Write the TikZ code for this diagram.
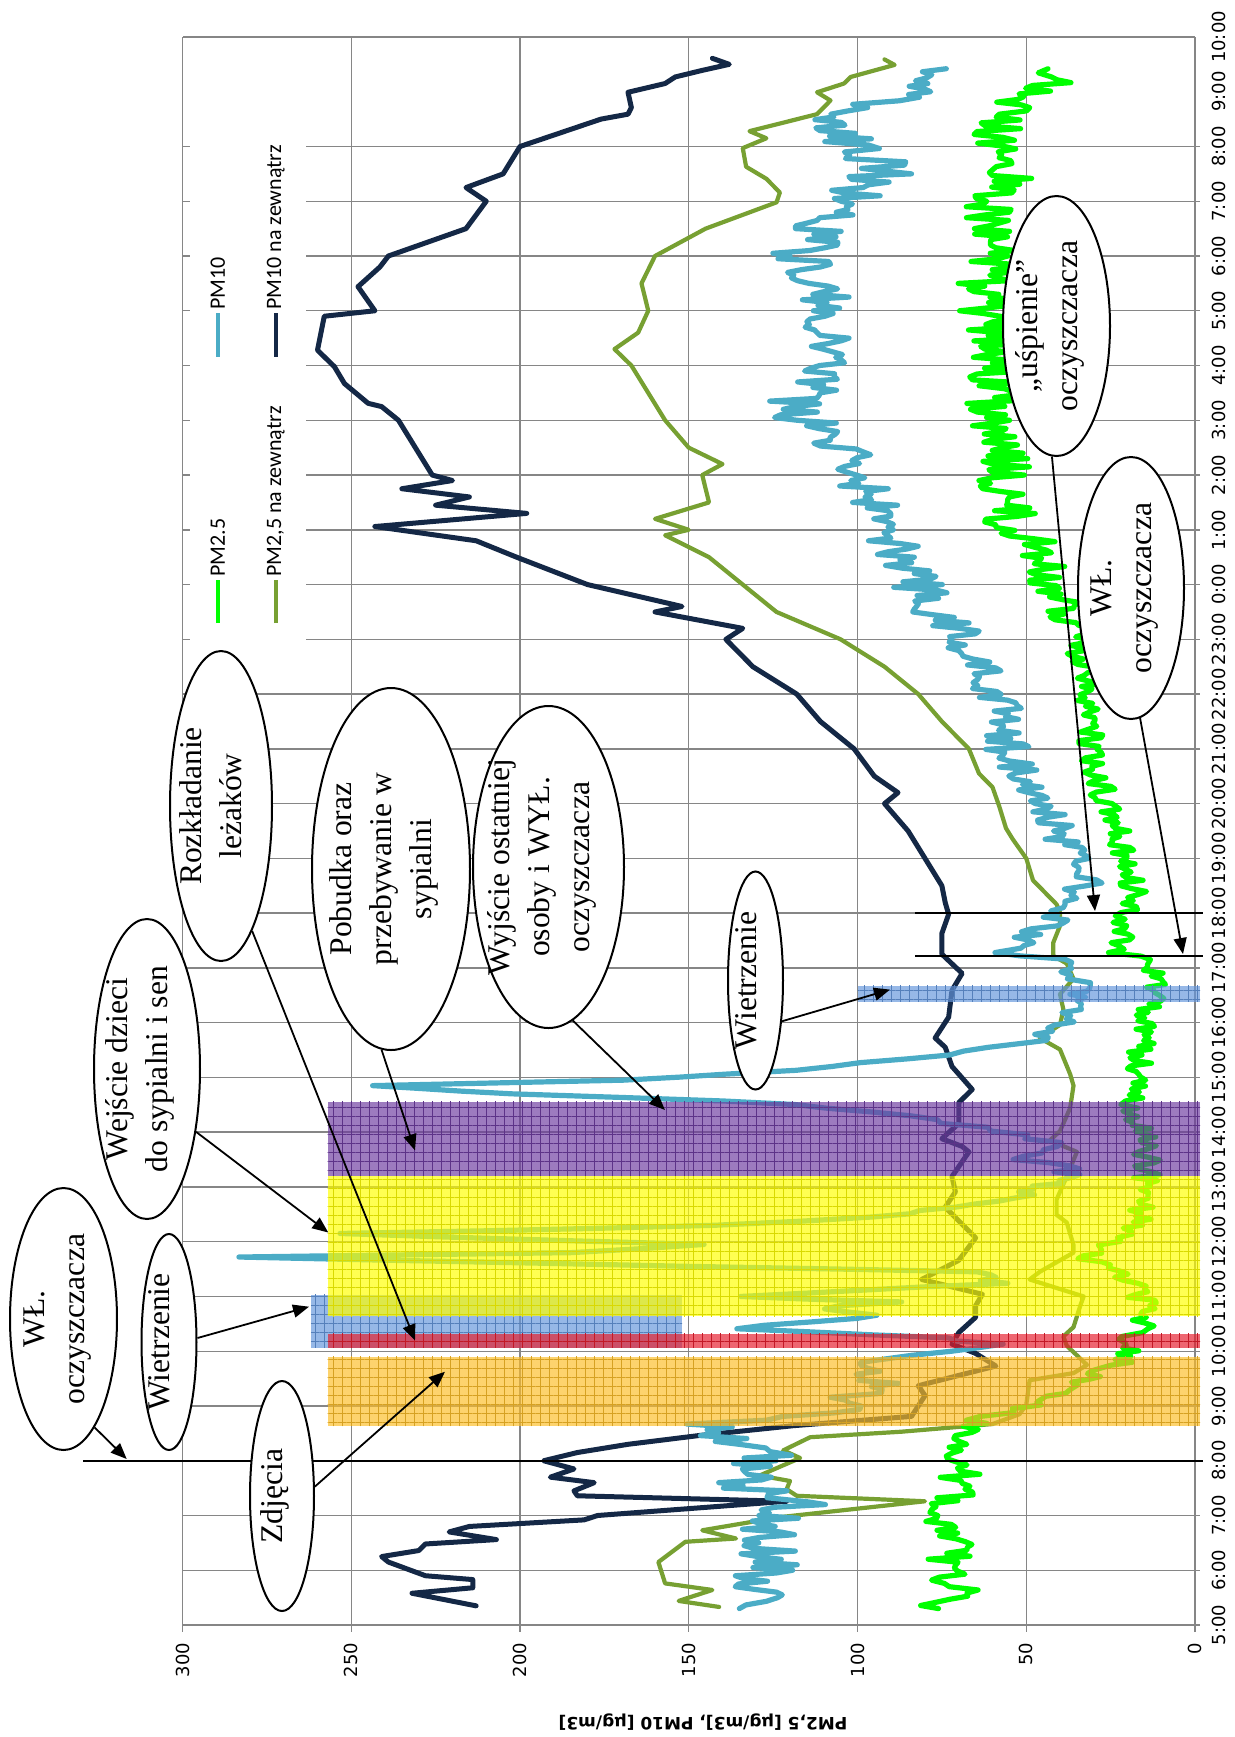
\documentclass[tikz,border=0pt]{standalone}
\usepackage{fontspec}
\setmainfont{Liberation Serif}
\newfontfamily\axisfont{DejaVu Sans}
\newfontfamily\legendfont{Carlito}
\usetikzlibrary{shapes.geometric,arrows.meta,patterns.meta}

\definecolor{pmtenin}{RGB}{75,172,198}
\definecolor{pmtenout}{RGB}{20,40,70}
\definecolor{pmfinein}{RGB}{0,255,0}
\definecolor{pmfineout}{RGB}{119,160,50}
\definecolor{gridgray}{RGB}{134,134,134}
\definecolor{bandorange}{RGB}{252,190,40}
\definecolor{bandred}{RGB}{230,30,45}
\definecolor{bandblue}{RGB}{100,150,220}
\definecolor{bandyellow}{RGB}{255,255,0}
\definecolor{bandpurple}{RGB}{110,60,160}

% text of a callout, kept out of the ellipse size
\newcommand{\bubbletext}[1]{\smash{\makebox[0pt]{\begin{tabular}{@{}c@{}}#1\end{tabular}}}}

\begin{document}
\begin{tikzpicture}[x=0.5pt, y=-0.5pt, >={Triangle[length=8pt,width=6.5pt]},
  gridline/.style={draw=gridgray, line width=0.7pt},
  axisline/.style={draw=gridgray, line width=1.2pt},
  eventline/.style={draw=black, line width=1pt},
  band/.style={fill=#1, fill opacity=0.68, postaction={fill opacity=0.3, pattern color=#1!85!black, pattern={Hatch[angle=0,distance=4.5pt,line width=0.25pt]}}},
  series/.style={line width=2.3pt, line join=round, line cap=round},
  bubble/.style={ellipse, draw, line width=1pt, fill=white, inner sep=0pt, rotate=90, font=\fontsize{15.8}{20}\selectfont},
  pointer/.style={->, line width=0.9pt},
  hourlabel/.style={rotate=90, anchor=north, inner sep=0pt, font=\axisfont\fontsize{9}{10}\selectfont},
  valuelabel/.style={rotate=90, anchor=east, inner sep=0pt, font=\axisfont\fontsize{9}{10}\selectfont},
  legendtext/.style={rotate=90, anchor=west, inner sep=0pt, font=\legendfont\fontsize{11}{13}\selectfont}]

\useasboundingbox (0,0) rectangle (1235,1737);
\pgfmathsetseed{11}

% chart: time along (0,1), concentration along (-1,0)
\begin{scope}[shift={(1195,1898.8)}, x={(0pt,27.38pt)}, y={(-1.6875pt,0pt)}]
  \foreach \h in {5,...,32} \draw[gridline] (\h,0) -- (\h,300);
  \draw[gridline] (34,0) -- (34,300);
  \foreach \v in {50,100,...,300} \draw[gridline] (5,\v) -- (34,\v);
  \foreach \h in {5,...,32} \draw[gridline] (\h,0) -- (\h,-1.6);
  \foreach \v in {0,50,...,300} \draw[gridline] (5,\v) -- (4.87,\v);
  \draw[axisline] (5,300) -- (5,-1.6);
  \draw[axisline] (4.87,0) -- (34,0);

  \foreach \h in {5,...,34} {
    \pgfmathtruncatemacro{\hr}{mod(\h,24)}
    \node[hourlabel] (hour\h) at (\h,-5) {\hr:00};
  }
  \foreach \v in {0,50,...,300} \node[valuelabel] (val\v) at (4.68,\v) {\v};

  % PM10 na zewnatrz
  \draw[series, pmtenout, line width=2.5pt] plot coordinates {(5.35,213) (5.58,232) (5.68,214) (5.83,214) (5.9,228) (6.15,239) (6.25,241) (6.36,230) (6.48,228) (6.56,207) (6.7,221) (6.8,215) (6.92,181) (7.0,177) (7.26,121) (7.36,183) (7.45,184) (7.6,178) (7.7,191) (7.85,184) (8.0,193) (8.15,183) (8.3,168) (8.46,147) (8.64,119) (8.81,84) (9.19,80) (9.37,82) (9.73,59) (9.96,65) (10.13,72) (10.34,70) (10.62,65) (10.83,65) (11.04,63) (11.31,81) (11.66,70) (12.07,65) (12.63,74) (12.91,71) (13.19,72) (13.64,67) (13.74,69) (13.88,75) (14.16,70) (14.54,70) (14.78,66) (15.2,72) (15.55,74) (15.72,77) (16.1,73) (16.59,72) (16.9,69) (17.25,75) (17.63,75) (17.98,73) (18.19,74) (18.5,75) (19.0,80) (19.5,85) (20.0,92) (20.2,88) (20.5,95) (21.0,101) (21.5,111) (22.0,118) (22.5,131) (23.0,139) (23.2,134) (23.5,160) (23.6,152) (24.0,180) (24.5,201) (24.8,213) (25.06,243) (25.3,198) (25.45,225) (25.6,215) (25.75,235) (25.9,220) (26.0,226) (26.5,231) (27.0,236) (27.25,241) (27.31,245) (27.67,252) (27.98,255) (28.28,260) (28.9,258) (29.0,243) (29.44,248) (29.8,241.5) (30.0,239) (30.5,216) (31.0,210) (31.25,216) (31.5,205) (32.0,200) (32.5,176) (32.59,168) (32.71,167) (32.99,168) (33.15,157) (33.27,154) (33.39,146) (33.5,138) (33.61,143)};

  % PM2,5 na zewnatrz
  \draw[series, pmfineout, line width=2.1pt] plot coordinates {(5.33,141) (5.44,153) (5.64,143) (5.76,157) (6.15,159) (6.52,151) (6.58,136) (6.73,146) (6.97,123) (7.26,80) (7.36,118) (7.48,121) (7.63,120) (7.73,129) (8.05,117) (8.19,122) (8.43,114) (8.53,87) (8.67,60) (8.85,52) (9.02,50) (9.47,49) (9.6,36) (9.75,32) (10.1,38) (10.27,39) (10.44,36) (10.83,34) (11.0,33) (11.31,49) (11.45,46) (11.8,36) (11.94,36) (12.35,38) (12.49,41) (12.77,41) (13.19,38) (13.64,35) (13.85,43) (14.02,40) (14.44,37) (14.85,36) (15.06,37) (15.51,40) (15.72,46) (15.96,40) (16.24,39) (16.52,40) (16.8,36) (17.08,38) (17.22,42) (17.46,42) (17.77,40) (18.01,40) (18.16,41) (18.6,48) (19.0,50) (19.35,54) (19.55,56) (19.95,58) (20.3,60) (20.55,64) (21.0,67) (21.5,75) (22.0,82) (22.5,92) (23.0,105) (23.5,124) (24.0,134) (24.5,144) (24.9,157) (25.0,150) (25.2,160) (25.5,144) (26.0,146) (26.2,140) (26.5,150) (27.0,157) (27.5,162) (28.0,167) (28.3,172) (28.6,165) (29.0,162) (29.5,164) (30.0,160) (30.5,145) (30.98,124) (31.16,123) (31.41,127) (31.63,133) (31.97,134) (32.15,127) (32.28,132) (32.59,112) (32.84,108) (32.99,112) (33.15,104) (33.27,102) (33.49,89) (33.59,92)};

  % PM10 (noisy)
  \draw[series, pmtenin, line width=2.6pt] (5.3,135)
    \foreach \ti/\vi/\am [remember=\ti as \tq (initially 5.3), remember=\vi as \vq (initially 135), evaluate=\ti as \ns using {int(max(1,(\ti-\tq)*20))}] in {5.5/128/11, 6.0/127/11, 6.5/128/11, 7.0/125/11, 7.25/115/11, 7.4/128/11, 7.8/138/11, 8.1/127/11, 8.3/137/7, 8.67/145/7, 8.81/122/7, 9.0/97/7, 9.16/105/7, 9.3/87/7, 9.58/102/7, 9.85/92/7, 10.0/73/7, 10.13/53/5, 10.3/92/6, 10.41/140/6, 10.6/97/6, 10.83/107/6, 10.9/87/6, 11.0/130/6, 11.24/58/5, 11.45/68/5, 11.55/150/5, 11.72/284/2, 11.8/180/5, 11.95/150/5, 12.15/250/5, 12.3/140/5, 12.45/95/5, 12.63/68/5, 12.91/48/5, 13.12/39/5, 13.33/38/5, 13.5/50/5, 13.74/38/5, 13.88/48/5, 14.02/58/5, 14.16/73/5, 14.3/87/5, 14.44/107/5, 14.57/137/5, 14.7/200/3, 14.85/245/3, 14.95/170/3, 15.06/137/3, 15.13/117/3, 15.27/100/3, 15.41/73/3, 15.55/61/3, 15.62/50/5, 15.9/43/5, 16.24/33/5, 16.52/37/5, 16.73/33/5, 16.87/35/5, 17.16/44/6, 17.28/56/6, 17.36/54/6, 17.66/47/6, 17.98/40/5, 18.16/38/5, 18.55/32/5, 18.95/35/5, 19.45/41/5, 20.45/49/6, 20.94/56/6, 21.94/58/7, 22.64/64/7, 23.0/70/7, 24.0/82/8, 25.0/92/8, 26.0/101/8, 26.9/108/8, 27.0/122/9, 27.5/115/9, 28.0/111/9, 29.0/108/9, 30.0/118/9, 30.5/110/9, 31.0/103/10, 31.35/96/10, 31.6/92/10, 31.9/98/10, 32.09/101/10, 32.34/109/10, 32.59/113/10, 32.71/104/8, 32.77/94/8, 32.9/84/7, 33.2/80/7, 33.42/76/6}
    { \foreach \kk in {1,...,\ns} { -- ({\tq+(\ti-\tq)*\kk/\ns},{\vq+(\vi-\vq)*\kk/\ns+\am*rand}) } };

  % PM2.5 (noisy)
  \draw[series, pmfinein, line width=2.6pt] (5.3,76)
    \foreach \ti/\vi/\am [remember=\ti as \tq (initially 5.3), remember=\vi as \vq (initially 76), evaluate=\ti as \ns using {int(max(1,(\ti-\tq)*20))}] in {5.64/68/7, 5.82/74/7, 6.42/71/7, 6.73/77/7, 7.27/72/7, 7.64/68/7, 7.98/71/7, 8.46/70/5, 8.74/63/5, 8.88/55/5, 9.02/48/5, 9.23/38/5, 9.64/28/4, 9.85/20/4, 10.27/19/4, 10.41/16/4, 10.83/15/4, 11.24/18/4, 11.52/25/4, 11.69/32/4, 11.94/28/4, 12.14/19/4, 12.63/15/4, 13.33/14/4, 14.02/15/4, 14.44/19/4, 14.57/18/4, 15.06/17/4, 15.41/16/4, 15.83/15/4, 16.24/13/4, 16.8/12/4, 17.06/14/4, 17.15/15/4, 17.28/24/4, 17.46/22/4, 17.77/23/4, 18.01/20/4, 18.45/18/4, 18.95/20/4, 19.95/26/4, 20.94/31/4, 22.04/31/4, 22.94/34/5, 23.93/41/6, 24.63/49/7, 25.4/56/9, 26.4/58/9, 27.2/62/9, 27.9/58/9, 28.9/61/9, 29.9/62/9, 30.5/60/9, 31.1/60/8, 31.47/53/8, 31.85/54/8, 32.22/59/8, 32.59/60/8, 32.71/55/8, 32.96/48/8, 33.27/41/7, 33.42/45/6}
    { \foreach \kk in {1,...,\ns} { -- ({\tq+(\ti-\tq)*\kk/\ns},{\vq+(\vi-\vq)*\kk/\ns+\am*rand}) } };

  % marked periods
  \fill[band=bandorange] (8.63,-1.5) rectangle (9.9,257);
  \fill[band=bandblue] (10.06,152) rectangle (11.03,262);
  \fill[band=bandblue] (16.38,-1.5) rectangle (16.67,100);
  \fill[band=bandred] (10.06,-1.5) rectangle (10.32,257);
  \fill[band=bandyellow] (10.64,-1.5) rectangle (13.2,257);
  \fill[band=bandpurple] (13.2,-1.5) rectangle (14.56,257);
\end{scope}

\draw[eventline] (83,1460.7) -- (1203,1460.7);
\draw[eventline] (915,955.8) -- (1203,955.8);
\draw[eventline] (915,912.6) -- (1203,912.6);

% legend
\fill[white] (190,128) rectangle (306,650);
\draw[pmfinein, line width=2.2pt] (217.7,623) -- (217.7,580);
\node[legendtext] (legA) at (217.7,577) {PM2.5};
\draw[pmfineout, line width=2.2pt] (275.7,623) -- (275.7,580);
\node[legendtext] (legB) at (275.7,577) {PM2,5 na zewnątrz};
\draw[pmtenin, line width=2.2pt] (217.7,356.7) -- (217.7,313);
\node[legendtext] (legC) at (217.7,310) {PM10};
\draw[pmtenout, line width=2.2pt] (275.7,356.7) -- (275.7,313);
\node[legendtext] (legD) at (275.7,310) {PM10 na zewnątrz};

\node[rotate=180, font=\axisfont\bfseries\fontsize{8.5}{10}\selectfont] (ytitle) at (703,1722) {PM2,5 [µg/m3], PM10 [µg/m3]};

% callouts
\node[bubble] (wlLeft) at (63.5,1319) [minimum width=131pt, minimum height=53.5pt] {\bubbletext{WŁ.\\oczyszczacza}};
\node[bubble] (wietrzA) at (169,1342) [minimum width=108pt, minimum height=27.5pt] {\bubbletext{Wietrzenie}};
\node[bubble] (zdjecia) at (282,1496) [minimum width=115pt, minimum height=32pt] {\bubbletext{Zdjęcia}};
\node[bubble] (wejscie) at (147,1069) [minimum width=150pt, minimum height=53pt] {\bubbletext{Wejście dzieci\\do sypialni i sen}};
\node[bubble] (rozklad) at (221,806) [minimum width=155pt, minimum height=51pt] {\bubbletext{Rozkładanie\\leżaków}};
\node[bubble] (pobudka) at (391,869) [minimum width=181pt, minimum height=79pt] {\bubbletext{Pobudka oraz\\przebywanie w\\sypialni}};
\node[bubble] (wyjscie) at (548.5,867) [minimum width=161pt, minimum height=75.5pt] {\bubbletext{Wyjście ostatniej\\osoby i WYŁ.\\oczyszczacza}};
\node[bubble] (wietrzB) at (755.5,980.5) [minimum width=109pt, minimum height=27.5pt] {\bubbletext{Wietrzenie}};
\node[bubble] (uspienie) at (1056.5,326) [minimum width=130pt, minimum height=53.5pt] {\bubbletext{„uśpienie”\\oczyszczacza}};
\node[bubble] (wlRight) at (1131,588) [minimum width=131pt, minimum height=53pt] {\bubbletext{WŁ.\\oczyszczacza}};

\coordinate (tipWlLeft) at (126.7,1459);
\coordinate (tipWietrzA) at (309,1306.7);
\coordinate (tipZdjecia) at (445,1371.7);
\coordinate (tipWejscie) at (328.3,1232.5);
\coordinate (tipRozklad) at (415,1340.5);
\coordinate (tipPobudka) at (415,1150.4);
\coordinate (tipWyjscie) at (665,1110);
\coordinate (tipWietrzB) at (890,989.6);
\coordinate (tipUspienie) at (1095,911);
\coordinate (tipWlRight) at (1183,954);

\path[pointer]
  (wlLeft.-164) edge (tipWlLeft)
  (wietrzA.-82) edge (tipWietrzA)
  (zdjecia.-74) edge (tipZdjecia)
  (wejscie.-142) edge (tipWejscie)
  (rozklad.-166) edge (tipRozklad)
  (pobudka.177) edge (tipPobudka)
  (wyjscie.-171) edge (tipWyjscie)
  (wietrzB.-147) edge (tipWietrzB)
  (uspienie.178) edge (tipUspienie)
  (wlRight.-176) edge (tipWlRight)
;
\end{tikzpicture}
\end{document}
